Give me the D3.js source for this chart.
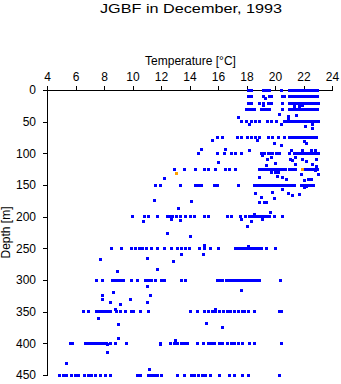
<!DOCTYPE html>
<html>
<head>
<meta charset="utf-8">
<script src="https://cdn.jsdelivr.net/npm/d3@7/dist/d3.min.js"></script>
<style>
  html, body { margin: 0; padding: 0; background: #fff; }
  svg { display: block; }
  text { font-family: "Liberation Sans", Arial, sans-serif; fill: #000; }
</style>
</head>
<body>
<svg id="chart" width="341" height="384"></svg>
<script>
// Axis ticks
const tempTicks = [4, 6, 8, 10, 12, 14, 16, 18, 20, 22, 24];
const depthTicks = [0, 50, 100, 150, 200, 250, 300, 350, 400, 450];

// Standard sampling depths [m] and the temperatures [°C] observed at each
const levelDepths = [0, 11, 21, 30, 50, 75, 100, 125, 150, 200, 250, 300, 350, 400, 450];
const levelTemps = [
  [18.1, 18.3, 19.15, 19.4, 19.6, 20.45, 21.0, 21.15, 21.3, 21.45, 21.6, 21.75, 21.9, 22.05, 22.2, 22.35, 22.5, 22.65, 22.8, 22.95],
  [18.1, 18.3, 19.15, 19.6, 19.75, 20.5, 20.6, 21.0, 21.15, 21.3, 21.45, 21.6, 21.75, 21.9, 22.05, 22.2, 22.35, 22.5, 22.65, 22.8, 22.95],
  [18.1, 18.3, 18.87, 19.15, 19.5, 19.7, 20.5, 21.0, 21.15, 21.3, 21.45, 21.6, 21.75, 21.9, 22.05, 22.2, 22.35, 22.5, 22.65, 22.8, 22.95, 23.05],
  [17.95, 18.15, 18.35, 18.55, 19.0, 19.2, 19.4, 19.6, 20.5, 21.0, 21.15, 21.3, 21.45, 21.6, 21.75, 21.9, 22.05, 22.2, 22.35, 22.5, 22.65, 22.8, 22.95],
  [17.6, 17.95, 18.3, 18.6, 18.9, 19.45, 19.7, 20.1, 20.6, 20.75, 20.95, 21.2, 21.35, 21.5, 21.65, 21.8, 21.95, 22.1, 22.25, 22.4, 22.55, 22.7, 22.85, 23.0],
  [15.9, 16.25, 17.3, 17.6, 18.0, 18.3, 18.6, 18.9, 19.5, 19.8, 20.2, 20.65, 21.0, 21.15, 21.3, 21.45, 21.6, 21.75, 21.9, 22.05, 22.2, 22.35, 22.5, 22.65, 22.8, 22.9],
  [14.6, 15.95, 16.4, 16.9, 17.2, 17.6, 19.05, 19.25, 19.5, 19.65, 19.8, 20.05, 20.3, 20.95, 21.3, 21.45, 21.6, 21.75, 21.9, 22.05, 22.2, 22.35, 22.5, 22.65, 22.8, 22.95, 23.05],
  [12.9, 13.6, 14.4, 15.0, 15.3, 15.8, 16.5, 16.8, 17.2, 18.9, 19.1, 19.3, 19.5, 19.7, 19.9, 20.1, 20.3, 20.5, 20.7, 20.95, 21.1, 21.25, 21.4, 22.1, 22.25, 22.4, 22.55, 22.7, 22.85, 22.95],
  [11.55, 11.95, 13.35, 14.4, 14.6, 14.8, 15.7, 15.9, 17.4, 18.5, 18.65, 18.8, 18.95, 19.1, 19.25, 19.4, 19.55, 19.7, 19.85, 20.0, 20.15, 20.3, 20.45, 20.6, 20.75, 20.9, 21.05, 21.2, 21.3, 21.8, 21.95, 22.1, 22.25, 22.4, 22.55, 22.7],
  [9.95, 10.8, 11.1, 11.7, 12.4, 12.6, 12.8, 13.05, 13.3, 13.7, 14.05, 14.3, 15.05, 15.3, 16.6, 16.9, 17.55, 17.9, 18.2, 18.35, 18.5, 18.65, 18.8, 18.95, 19.1, 19.25, 19.45, 19.6, 19.95, 20.5],
  [8.5, 9.2, 9.9, 10.15, 10.45, 10.7, 10.95, 11.3, 11.7, 12.2, 12.7, 13.1, 13.4, 13.7, 13.95, 14.65, 15.05, 15.45, 16.0, 17.2, 17.35, 17.5, 17.65, 17.8, 17.95, 18.1, 18.25, 18.4, 18.55, 18.7, 18.85, 19.0, 19.4, 20.0],
  [7.45, 7.85, 8.55, 8.75, 8.95, 9.15, 9.35, 9.9, 10.35, 10.85, 11.1, 11.3, 11.6, 12.0, 12.2, 13.4, 13.7, 15.9, 16.05, 16.3, 16.55, 16.7, 16.85, 17.0, 17.15, 17.3, 17.45, 17.6, 17.75, 17.9, 18.05, 18.2, 18.35, 18.5, 18.65, 18.8, 18.9, 20.35],
  [6.5, 6.9, 7.45, 7.6, 7.75, 7.9, 8.05, 8.2, 8.4, 8.85, 9.15, 9.5, 9.9, 10.05, 10.5, 11.1, 14.05, 14.5, 15.0, 15.3, 15.55, 15.8, 16.1, 16.35, 16.6, 16.85, 17.1, 17.4, 17.7, 17.85, 18.1, 18.5, 20.3, 20.45],
  [5.6, 5.75, 6.65, 6.8, 6.95, 7.1, 7.25, 7.4, 7.55, 7.7, 7.85, 8.0, 8.15, 8.45, 8.8, 9.55, 11.95, 12.6, 12.9, 13.15, 13.4, 13.6, 13.8, 14.5, 14.95, 15.3, 15.5, 15.75, 16.1, 16.3, 16.6, 16.9, 17.1, 17.4, 17.7, 18.2, 18.5, 20.4],
  [4.85, 5.1, 5.35, 5.7, 5.95, 6.2, 6.6, 6.85, 7.1, 7.4, 7.75, 8.1, 8.4, 10.3, 10.55, 11.1, 11.3, 11.5, 11.75, 12.0, 13.1, 13.6, 14.1, 14.35, 14.6, 14.85, 15.1, 15.45, 16.1, 16.8, 17.1, 17.7, 18.1, 20.3]
];

// Observations taken between the standard depths
const extraDepths = [13, 24, 26, 26, 25, 39, 42, 40, 44, 46, 55, 55, 57, 54, 61, 79, 79, 84, 87, 82, 84,
  94, 94, 96, 96, 95, 96, 96, 104, 109, 106, 109, 106, 109, 113, 109, 115, 116, 112, 118, 120, 118, 119,
  130, 131, 131, 136, 142, 138, 134, 143, 142, 133, 127, 139, 138, 141, 157, 163, 170, 162, 171, 163, 167,
  165, 176, 187, 178, 178, 178, 175, 152, 154, 196, 194, 207, 204, 206, 226, 232, 205, 207, 205, 215, 245,
  247, 268, 266, 271, 260, 260, 286, 284, 311, 320, 325, 316, 325, 331, 335, 331, 338, 335, 346, 347, 361,
  371, 392, 368, 375, 402, 395, 402, 415, 432, 442];
const extraTemps = [19.3, 19.15, 21.3, 21.65, 21.9, 20.27, 20.88, 21.5, 17.4, 20.9, 18.2, 20.4, 22.1, 22.6, 22.6, 15.6, 18.75, 19.9, 20.4, 22.0, 22.2,
  14.8, 16.5, 18.2, 21.15, 21.9, 22.5, 22.8, 19.1, 19.45, 19.7, 21.05, 21.4, 21.9, 22.2, 22.85, 16.0, 20.0, 21.2, 22.6, 22.9, 21.4, 19.4,
  19.7, 20.0, 20.2, 20.15, 20.75, 18.85, 21.85, 22.05, 22.35, 23.0, 22.8, 12.2, 20.5, 22.5, 20.5, 18.6, 19.05, 19.8, 19.95, 20.9, 21.2,
  21.7, 14.1, 13.2, 18.9, 19.2, 19.35, 11.5, 22.2, 22.05, 18.5, 19.65, 10.75, 12.7, 13.3, 12.45, 14.0, 17.6, 18.3, 19.1, 18.0, 15.05,
  18.1, 7.7, 11.05, 12.85, 13.4, 14.95, 8.9, 11.7, 11.0, 8.6, 11.2, 17.6, 7.85, 7.85, 8.45, 9.85, 9.1, 11.05, 8.75, 15.8, 7.6,
  9.0, 8.95, 15.15, 16.25, 11.9, 13.0, 8.2, 8.2, 5.3, 11.15];

// Flagged (questionable) observations
const flaggedDepths = [125, 132];
const flaggedTemps = [21.88, 13.07];

const svg = d3.select("#chart");

const x = d3.scaleLinear().domain([4, 24]).range([47.5, 332.5]);
const y = d3.scaleLinear().domain([0, 450]).range([90.5, 375.5]);

// Title
svg.append("text")
  .attr("x", 100).attr("y", 12.5)
  .attr("textLength", 182).attr("lengthAdjust", "spacingAndGlyphs")
  .style("font-size", "13px")
  .text("JGBF in December, 1993");

// Temperature axis along the top
const xAxis = svg.append("g")
  .attr("transform", "translate(0,90.5)")
  .call(d3.axisTop(x).tickValues(tempTicks).tickSize(5).tickSizeOuter(0).tickPadding(5).offset(0));

// Depth axis on the left, increasing downward
const yAxis = svg.append("g")
  .attr("transform", "translate(47.5,0)")
  .call(d3.axisLeft(y).tickValues(depthTicks).tickSize(5).tickSizeOuter(0).tickPadding(6.5).offset(0));

[xAxis, yAxis].forEach(g => {
  g.attr("font-family", null).attr("font-size", null);
  g.selectAll("path, line").attr("stroke", "#000").attr("shape-rendering", "crispEdges");
  g.selectAll("text").style("font-size", "12px");
});

svg.append("text")
  .attr("x", 190.5).attr("y", 65)
  .attr("text-anchor", "middle")
  .style("font-size", "12px")
  .text("Temperature [°C]");

svg.append("text")
  .attr("transform", "translate(10.3,232.5) rotate(-90)")
  .attr("text-anchor", "middle")
  .style("font-size", "12px")
  .text("Depth [m]");

// Observations
const obs = [];
levelDepths.forEach((d, i) => levelTemps[i].forEach(t => obs.push({ depth: d, temp: t })));
extraDepths.forEach((d, i) => obs.push({ depth: d, temp: extraTemps[i] }));
const flagged = flaggedDepths.map((d, i) => ({ depth: d, temp: flaggedTemps[i] }));

const marks = svg.append("g").attr("shape-rendering", "crispEdges");
marks.selectAll("rect.obs")
  .data(obs)
  .join("rect")
  .attr("class", "obs")
  .attr("x", d => x(d.temp) - 1.5)
  .attr("y", d => y(d.depth) - 2)
  .attr("width", 3).attr("height", 3)
  .attr("fill", "#0000ff");

marks.selectAll("rect.flag")
  .data(flagged)
  .join("rect")
  .attr("class", "flag")
  .attr("x", d => x(d.temp) - 1.5)
  .attr("y", d => y(d.depth) - 2)
  .attr("width", 3).attr("height", 3)
  .attr("fill", "#ffa000");
</script>
</body>
</html>
